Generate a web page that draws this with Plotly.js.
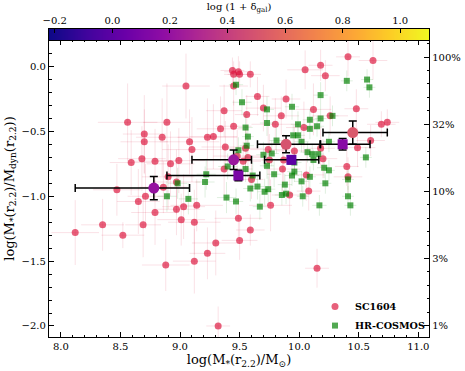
<!DOCTYPE html>
<html>
<head>
<meta charset="utf-8">
<script src="https://cdn.plot.ly/plotly-3.0.1.min.js"></script>
<style>
  html, body { margin: 0; padding: 0; background: white; }
  #chart { width: 465px; height: 371px; }
</style>
</head>
<body>
<div id="chart"></div>
<script>
// SC1604 individual galaxies
const scMass = [9.44, 9.45, 9.49, 9.50, 9.59, 9.45, 9.05, 9.65, 9.37, 9.56,
  8.56, 8.89, 9.45, 9.34, 8.70, 8.85, 9.23, 9.28, 8.70, 9.08,
  9.38, 9.55, 9.10, 8.68, 8.79, 8.59, 8.99, 8.92, 9.57, 9.53,
  9.37, 9.60, 8.97, 8.90, 8.47, 8.86, 8.71, 8.65, 8.79, 9.14,
  9.03, 8.97, 9.01, 9.12, 8.69, 8.35, 8.12, 8.52, 9.30, 9.23,
  9.12, 8.88, 9.32, 9.49, 9.59, 9.50, 10.41, 10.62, 10.18, 10.05,
  10.22, 9.89, 9.70, 9.85, 10.12, 10.48, 10.26, 9.80, 10.04, 10.69,
  10.74, 10.60, 10.49, 9.74, 9.96, 10.18, 9.48, 9.75, 9.87, 10.20,
  10.06, 10.40, 10.41, 9.92, 10.08, 9.76, 10.15, 9.86];
const scRatio = [-0.03, -0.06, -0.04, -0.06, -0.06, -0.15, -0.15, -0.23, -0.34, -0.37,
  -0.43, -0.43, -0.46, -0.48, -0.52, -0.545, -0.545, -0.54, -0.58, -0.58,
  -0.62, -0.63, -0.64, -0.71, -0.73, -0.74, -0.725, -0.75, -0.70, -0.73,
  -0.79, -0.87, -0.89, -0.85, -0.95, -0.93, -1.00, -1.04, -1.125, -1.07,
  -1.08, -1.10, -1.18, -1.20, -1.22, -1.22, -1.28, -1.30, -1.36, -1.44,
  -1.50, -1.53, -2.00, -1.17, -1.26, -1.34, 0.075, 0.047, 0.01, -0.025,
  -0.07, -0.25, -0.32, -0.38, -0.33, -0.325, -0.38, -0.445, -0.47, -0.445,
  -0.43, -0.57, -0.625, -0.64, -0.65, -0.63, -0.69, -0.72, -0.72, -0.71,
  -0.835, -0.77, -0.85, -0.99, -0.96, -1.07, -1.555, -0.79];
const scMassErr = [0.10, 0.08, 0.12, 0.10, 0.09, 0.12, 0.20, 0.10, 0.15, 0.10,
  0.25, 0.20, 0.15, 0.20, 0.18, 0.22, 0.25, 0.20, 0.20, 0.25,
  0.20, 0.15, 0.25, 0.20, 0.18, 0.18, 0.22, 0.20, 0.12, 0.15,
  0.15, 0.10, 0.20, 0.22, 0.20, 0.20, 0.15, 0.18, 0.20, 0.22,
  0.18, 0.20, 0.20, 0.22, 0.15, 0.18, 0.20, 0.18, 0.20, 0.15,
  0.18, 0.20, 0.10, 0.20, 0.12, 0.15, 0.10, 0.12, 0.10, 0.15,
  0.12, 0.12, 0.15, 0.15, 0.15, 0.10, 0.15, 0.20, 0.15, 0.12,
  0.10, 0.12, 0.15, 0.15, 0.15, 0.12, 0.20, 0.20, 0.18, 0.12,
  0.15, 0.10, 0.12, 0.15, 0.10, 0.18, 0.10, 0.15];
const scRatioErr = [0.10, 0.10, 0.12, 0.10, 0.10, 0.15, 0.25, 0.15, 0.20, 0.15,
  0.30, 0.30, 0.20, 0.25, 0.30, 0.30, 0.30, 0.25, 0.25, 0.25,
  0.20, 0.15, 0.25, 0.25, 0.25, 0.25, 0.25, 0.25, 0.15, 0.15,
  0.20, 0.15, 0.25, 0.25, 0.20, 0.20, 0.25, 0.25, 0.25, 0.20,
  0.25, 0.20, 0.20, 0.25, 0.25, 0.20, 0.25, 0.10, 0.25, 0.20,
  0.25, 0.20, 0.15, 0.15, 0.12, 0.15, 0.15, 0.15, 0.12, 0.15,
  0.12, 0.15, 0.18, 0.15, 0.20, 0.15, 0.15, 0.20, 0.20, 0.10,
  0.10, 0.12, 0.15, 0.20, 0.20, 0.15, 0.20, 0.20, 0.20, 0.15,
  0.20, 0.15, 0.15, 0.15, 0.15, 0.20, 0.15, 0.20];

// HR-COSMOS individual galaxies
const hrMass = [9.47, 9.52, 9.55, 9.57, 9.56, 9.49, 9.40, 9.55, 9.22, 9.21,
  8.98, 8.89, 9.61, 9.65, 9.59, 9.39, 9.07, 9.47, 9.67, 9.73,
  9.94, 10.40, 10.57, 10.59, 10.18, 9.73, 9.99, 10.09, 10.09, 10.18,
  10.15, 10.28, 9.81, 9.95, 9.99, 10.02, 10.25, 9.77, 10.07, 10.11,
  10.16, 9.70, 10.12, 9.73, 9.79, 9.96, 9.94, 9.96, 10.02, 10.09,
  10.21, 10.25, 10.22, 10.56, 10.41, 10.41, 9.71, 9.74, 9.855, 9.89,
  10.03, 10.17, 10.43, 9.88];
const hrRatio = [-0.14, -0.275, -0.47, -0.54, -0.61, -0.645, -0.77, -0.79, -0.83, -0.89,
  -0.90, -1.00, -0.84, -0.925, -0.94, -1.01, -1.02, -1.04, -1.08, -0.33,
  -0.31, -0.11, -0.10, -0.16, -0.22, -0.435, -0.445, -0.41, -0.48, -0.40,
  -0.46, -0.38, -0.57, -0.53, -0.53, -0.58, -0.58, -0.67, -0.66, -0.675,
  -0.675, -0.68, -0.72, -0.765, -0.83, -0.74, -0.84, -0.81, -0.885, -0.85,
  -0.78, -0.80, -0.90, -0.70, -0.87, -1.00, -0.965, -0.945, -0.99, -0.98,
  -1.00, -1.07, -1.07, -0.91];
const hrMassErr = [0.06, 0.08, 0.06, 0.05, 0.06, 0.06, 0.08, 0.06, 0.08, 0.08,
  0.08, 0.08, 0.06, 0.06, 0.06, 0.08, 0.08, 0.06, 0.06, 0.06,
  0.06, 0.05, 0.05, 0.05, 0.06, 0.06, 0.06, 0.06, 0.06, 0.05,
  0.06, 0.05, 0.06, 0.06, 0.06, 0.06, 0.05, 0.06, 0.06, 0.05,
  0.05, 0.06, 0.05, 0.06, 0.06, 0.06, 0.06, 0.06, 0.06, 0.05,
  0.06, 0.05, 0.05, 0.05, 0.05, 0.05, 0.06, 0.06, 0.06, 0.06,
  0.05, 0.06, 0.05, 0.06];
const hrRatioErr = [0.08, 0.10, 0.10, 0.08, 0.10, 0.10, 0.10, 0.10, 0.12, 0.12,
  0.12, 0.12, 0.10, 0.10, 0.10, 0.12, 0.12, 0.10, 0.10, 0.10,
  0.10, 0.08, 0.08, 0.08, 0.10, 0.10, 0.10, 0.08, 0.08, 0.08,
  0.08, 0.08, 0.10, 0.08, 0.08, 0.08, 0.08, 0.10, 0.08, 0.08,
  0.08, 0.10, 0.08, 0.10, 0.10, 0.08, 0.08, 0.08, 0.08, 0.08,
  0.08, 0.08, 0.08, 0.08, 0.08, 0.08, 0.10, 0.10, 0.08, 0.08,
  0.08, 0.08, 0.08, 0.08];

// binned medians
const scBinMass = [8.78, 9.45, 9.89, 10.45];
const scBinRatio = [-0.937, -0.719, -0.599, -0.509];
const scBinMassLo = [0.66, 0.35, 0.24, 0.25];
const scBinMassHi = [0.30, 0.15, 0.29, 0.29];
const scBinRatioErr = [0.09, 0.075, 0.065, 0.09];
const scBinDensity = [0.20, 0.22, 0.50, 0.52];

const hrBinMass = [9.49, 9.935, 10.365];
const hrBinRatio = [-0.84, -0.719, -0.599];
const hrBinMassLo = [0.60, 0.225, 0.19];
const hrBinMassHi = [0.18, 0.23, 0.23];
const hrBinRatioErr = [0.04, 0.03, 0.045];
const hrBinDensity = [0.10, 0.00, 0.15];

// colorbar levels and right axis labels
const cbarLevels = [-0.22, -0.2, 0.0, 0.2, 0.4, 0.6, 0.8, 1.0, 1.1];
const cbarTicks = [-0.2, 0.0, 0.2, 0.4, 0.6, 0.8, 1.0];
const pctVals = [-2, -1.5, -1, -0.5, 0];
const pctText = ['1%', '3%', '10%', '32%', '100%'];

// matplotlib plasma, plotly has no built-in for it
const plasma = [
  [0.0, '#0d0887'], [0.1, '#41049d'], [0.2, '#6a00a8'], [0.3, '#8f0da4'],
  [0.4, '#b12a90'], [0.5, '#cc4778'], [0.6, '#e16462'], [0.7, '#f2844b'],
  [0.8, '#fca636'], [0.9, '#fcce25'], [1.0, '#f0f921']
];

const serif = 'DejaVu Serif, serif';
const densMin = -0.22, densMax = 1.1;

function dataTrace(name, x, y, ex, ey, symbol, color, barColor, size) {
  return {
    type: 'scatter', mode: 'markers', name: name,
    x: x, y: y,
    error_x: { type: 'data', array: ex, color: barColor, thickness: 1, width: 0 },
    error_y: { type: 'data', array: ey, color: barColor, thickness: 1, width: 0 },
    marker: { symbol: symbol, size: size, color: color, line: { width: 0 } }
  };
}

function binTrace(x, y, lo, hi, ey, dens, symbol, size) {
  return {
    type: 'scatter', mode: 'markers', showlegend: false,
    x: x, y: y,
    error_x: { type: 'data', array: hi, arrayminus: lo, color: 'black', thickness: 1.5, width: 4 },
    error_y: { type: 'data', array: ey, color: 'black', thickness: 1.5, width: 4 },
    marker: { symbol: symbol, size: size, color: dens, colorscale: plasma,
      cmin: densMin, cmax: densMax, line: { width: 0 } }
  };
}

const traces = [
  dataTrace('<b>SC1604</b>', scMass, scRatio, scMassErr, scRatioErr, 'circle',
    'rgba(220,20,60,0.68)', 'rgba(220,20,60,0.13)', 7),
  dataTrace('<b>HR-COSMOS</b>', hrMass, hrRatio, hrMassErr, hrRatioErr, 'square',
    'rgba(0,128,0,0.68)', 'rgba(0,128,0,0.13)', 6),
  binTrace(scBinMass, scBinRatio, scBinMassLo, scBinMassHi, scBinRatioErr, scBinDensity, 'circle', 11),
  binTrace(hrBinMass, hrBinRatio, hrBinMassLo, hrBinMassHi, hrBinRatioErr, hrBinDensity, 'square', 10),
  { type: 'scatter', x: [], y: [], yaxis: 'y2', showlegend: false, hoverinfo: 'skip' },
  {
    type: 'heatmap', xaxis: 'x2', yaxis: 'y3',
    x: cbarLevels, y: [0, 1], z: [cbarLevels, cbarLevels],
    zsmooth: 'best', colorscale: plasma, zmin: densMin, zmax: densMax,
    showscale: false, hoverinfo: 'skip'
  }
];

const tickFont = { family: serif, size: 10, color: 'black' };
const titleFont = { family: serif, size: 13, color: 'black' };

const layout = {
  width: 465, height: 371,
  margin: { l: 49, r: 36, t: 29, b: 34 },
  paper_bgcolor: 'white', plot_bgcolor: 'white',
  font: { family: serif, color: 'black' },
  showlegend: true,
  legend: {
    x: 0.70, y: -0.01, xanchor: 'left', yanchor: 'bottom',
    font: { family: serif, size: 9.6, color: 'black' },
    bgcolor: 'rgba(0,0,0,0)', tracegroupgap: 0, borderwidth: 0
  },
  xaxis: {
    domain: [0, 1], anchor: 'y', range: [7.9, 11.09],
    tick0: 0, dtick: 0.5, tickformat: '.1f',
    ticks: 'inside', ticklen: 5, tickwidth: 1, tickcolor: 'black',
    minor: { dtick: 0.1, ticks: 'inside', ticklen: 2.5, tickcolor: 'black' },
    showline: true, linecolor: 'black', linewidth: 1.2, mirror: 'ticks',
    showgrid: false, zeroline: false, tickfont: tickFont,
    title: { text: 'log(M<sub>*</sub>(r<sub>2.2</sub>)/M<sub>⊙</sub>)', font: titleFont, standoff: 2 }
  },
  yaxis: {
    domain: [0, 0.9643], anchor: 'x', range: [-2.085, 0.205],
    tick0: 0, dtick: 0.5, tickformat: '.1f',
    ticks: 'inside', ticklen: 5, tickwidth: 1, tickcolor: 'black',
    minor: { dtick: 0.1, ticks: 'inside', ticklen: 2.5, tickcolor: 'black' },
    showline: true, linecolor: 'black', linewidth: 1.2, mirror: false,
    showgrid: false, zeroline: false, tickfont: tickFont,
    title: { text: 'log(M<sub>*</sub>(r<sub>2.2</sub>)/M<sub>dyn</sub>(r<sub>2.2</sub>))', font: titleFont, standoff: 4 }
  },
  yaxis2: {
    overlaying: 'y', side: 'right', anchor: 'x', range: [-2.084, 0.127],
    tickvals: pctVals, ticktext: pctText,
    ticks: 'inside', ticklen: 5, tickwidth: 1, tickcolor: 'black',
    minor: { tick0: 0, dtick: 0.1, ticks: 'inside', ticklen: 2.5, tickcolor: 'black' },
    showline: true, linecolor: 'black', linewidth: 1.2,
    showgrid: false, zeroline: false, tickfont: tickFont
  },
  xaxis2: {
    domain: [0, 1], anchor: 'y3', side: 'top', range: [densMin, densMax],
    tickvals: cbarTicks, tickformat: '.1f',
    ticks: 'inside', ticklen: 4, tickwidth: 1, tickcolor: 'black',
    showline: true, linecolor: 'black', linewidth: 1.2, mirror: true,
    showgrid: false, zeroline: false, tickfont: tickFont,
    title: { text: 'log (1 + δ<sub>gal</sub>)', font: { family: serif, size: 10, color: 'black' }, standoff: 2 }
  },
  yaxis3: {
    domain: [0.9643, 1], anchor: 'x2', range: [0, 1],
    showticklabels: false, ticks: '', showgrid: false, zeroline: false,
    showline: true, linecolor: 'black', linewidth: 1.2, mirror: true
  }
};

Plotly.newPlot('chart', traces, layout, { displayModeBar: false, staticPlot: true });
</script>
</body>
</html>
